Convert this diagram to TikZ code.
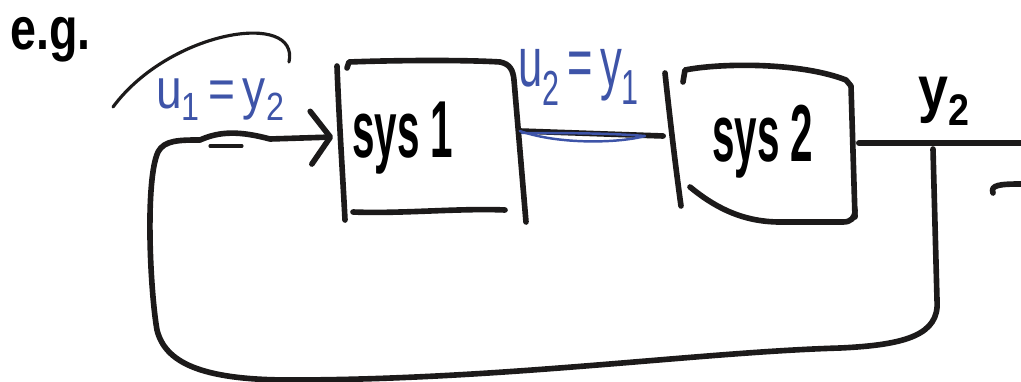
\documentclass[tikz,border=0pt]{standalone}
\usepackage{fontspec}
\usepackage{graphicx}
\setmainfont{Liberation Sans}
\usetikzlibrary{arrows.meta,calc}
\definecolor{handblue}{RGB}{62,84,168}
\definecolor{handink}{RGB}{28,26,26}
\begin{document}
\begin{tikzpicture}[x=0.02cm,y=-0.02cm,
  ink/.style={line width=3.2pt, line cap=round, line join=round, color=handink},
  fine ink/.style={line width=1.8pt, line cap=round, color=handink},
  blue ink/.style={line width=1.4pt, line cap=round, line join=round, color=handblue},
  sysbox/.style={minimum width=3.7cm, minimum height=3cm, inner sep=0pt},
  hand/.style={inner sep=0pt, anchor=base west},
  barb/.style={-{Straight Barb[length=11pt,width=30pt,line cap=round,line join=round]}}]
\useasboundingbox (0,0) rectangle (1021,382);

% invisible blocks that carry the anchors
\node[sysbox] (s1) at (430,140) {};
\node[sysbox] (s2) at (764,146) {};

% hand-drawn outline of sys 1
\draw[ink] (337,66) .. controls (339,120) and (343,180) .. (345,220);
\draw[ink] (347,68) -- (349,62) .. controls (400,60) and (470,60) .. (500,62)
           .. controls (510,64) and (513,70) .. (514,80) -- (526,222);
\draw[ink] (353,212) .. controls (400,214) and (460,208) .. (505,210);

% hand-drawn outline of sys 2
\draw[ink] (665,73) .. controls (670,120) and (676,170) .. (681,206);
\draw[ink] (683,82) -- (685,70) .. controls (720,63) and (800,62) .. (846,80)
           -- (851,86) -- (855,217);
\draw[ink] (690,187) .. controls (712,205) and (740,222) .. (780,222)
           -- (843,222) .. controls (851,222) and (855,218) .. (855,210);

% block labels
\node[hand] (t1) at (352,157) {\scalebox{0.5}[1]{\fontsize{46}{46}\selectfont\bfseries sys 1}};
\node[hand] (t2) at (712,161) {\scalebox{0.5}[1]{\fontsize{46}{46}\selectfont\bfseries sys 2}};

% link from sys 2 back to sys 1
\coordinate (s1r) at ($(s1.east)+(-3,-9)$);
\draw[ink] (s2.west) ++(-8,-10) -- (s1r);
\draw[blue ink] (s1r) .. controls (560,145) and (620,143) .. (645,136)
                .. controls (610,133) and (560,133) .. (522,133);
\node[hand, text=handblue] (lu2) at (518,86)
  {\scalebox{0.62}[1]{\fontsize{40}{40}\selectfont u\textsubscript{2}\,=\,y\textsubscript{1}}};

% output of sys 2
\coordinate (out) at (1021,143);
\coordinate (tap) at (933,149);
\draw[ink] ($(s2.east)+(2,-3)$) -- (out);
\node[hand] (ly2) at (918,110) {\scalebox{0.85}[1]{\fontsize{36}{36}\selectfont\bfseries y\textsubscript{2}}};
\draw[ink] (993,193) .. controls (990,185) and (1000,184) .. (1021,184);

% feedback path into sys 1
\draw[ink, barb] (tap) -- (937,300) .. controls (940,335) and (905,345) .. (840,348)
  .. controls (700,352) and (500,380) .. (290,380)
  .. controls (200,380) and (165,362) .. (157,330)
  .. controls (150,290) and (145,180) .. (158,152)
  .. controls (164,140) and (180,140) .. (200,140)
  .. controls (220,131) and (240,131) .. (270,139)
  -- ($(s1.west)+(-4,-3)$);
\draw[fine ink] (210,146) -- (242,146);
\node[hand, text=handblue] (lu1) at (156,108)
  {\scalebox{0.82}[1]{\fontsize{32}{32}\selectfont u\textsubscript{1}\,=\,y\textsubscript{2}}};

% "e.g." remark with its arc
\node[hand] (eg) at (10,50) {\scalebox{0.78}[1]{\fontsize{34}{34}\selectfont\bfseries e.g.}};
\draw[fine ink] (113,107) .. controls (170,30) and (300,10) .. (289,62);
\end{tikzpicture}
\end{document}
